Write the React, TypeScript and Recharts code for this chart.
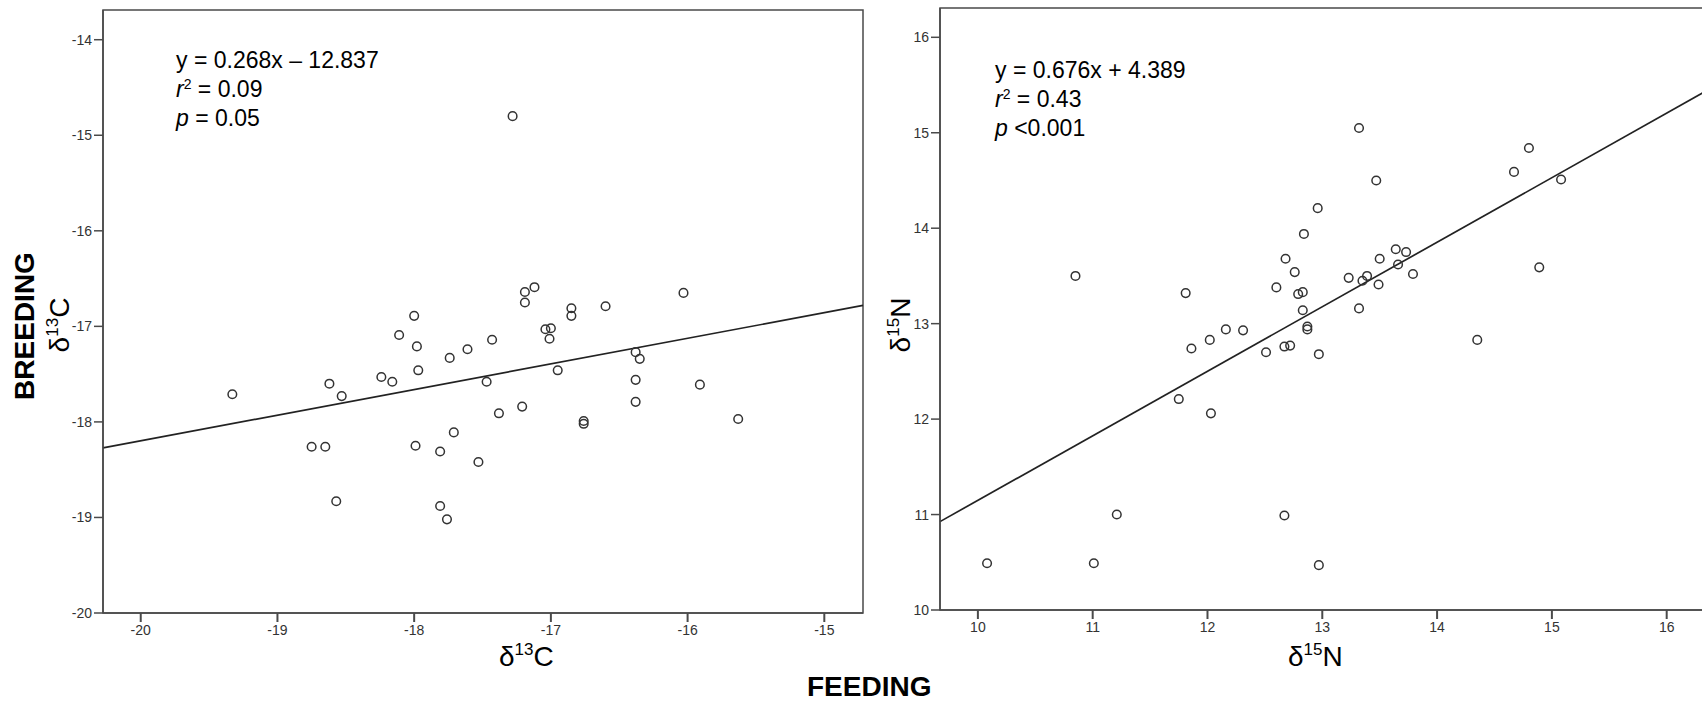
import React from 'react';
import {
  ScatterChart,
  Scatter,
  XAxis,
  YAxis,
  ReferenceArea,
  ReferenceLine,
} from 'recharts';

// left panel: δ13C feeding (x) vs breeding (y)
const carbonFeeding = [
  -19.33, -18.75, -18.65, -18.62, -18.53, -18.57, -18.24, -18.16, -18.11, -18.0, -17.98,
  -17.97, -17.99, -17.81, -17.81, -17.76, -17.74, -17.61, -17.71, -17.53, -17.43, -17.47,
  -17.38, -17.28, -17.21, -17.19, -17.12, -17.19, -17.04, -17.0, -17.01, -16.95, -16.85,
  -16.85, -16.76, -16.76, -16.6, -16.38, -16.35, -16.38, -16.38, -16.03, -15.91, -15.63,
];
const carbonBreeding = [
  -17.71, -18.26, -18.26, -17.6, -17.73, -18.83, -17.53, -17.58, -17.09, -16.89, -17.21,
  -17.46, -18.25, -18.31, -18.88, -19.02, -17.33, -17.24, -18.11, -18.42, -17.14, -17.58,
  -17.91, -14.8, -17.84, -16.64, -16.59, -16.75, -17.03, -17.02, -17.13, -17.46, -16.81,
  -16.89, -17.99, -18.02, -16.79, -17.27, -17.34, -17.56, -17.79, -16.65, -17.61, -17.97,
];

// right panel: δ15N feeding (x) vs breeding (y)
const nitrogenFeeding = [
  10.08, 11.01, 11.21, 10.85, 11.75, 11.81, 11.86, 12.02, 12.03, 12.16, 12.31, 12.51,
  12.6, 12.67, 12.72, 12.67, 12.68, 12.76, 12.79, 12.83, 12.83, 12.84, 12.87, 12.87,
  12.96, 12.97, 12.97, 13.23, 13.32, 13.32, 13.35, 13.39, 13.47, 13.49, 13.5, 13.64,
  13.73, 13.66, 13.79, 14.35, 14.67, 14.8, 14.89, 15.08,
];
const nitrogenBreeding = [
  10.49, 10.49, 11.0, 13.5, 12.21, 13.32, 12.74, 12.83, 12.06, 12.94, 12.93, 12.7,
  13.38, 12.76, 12.77, 10.99, 13.68, 13.54, 13.31, 13.33, 13.14, 13.94, 12.97, 12.94,
  14.21, 12.68, 10.47, 13.48, 13.16, 15.05, 13.45, 13.5, 14.5, 13.41, 13.68, 13.78,
  13.75, 13.62, 13.52, 12.83, 14.59, 14.84, 13.59, 14.51,
];

const carbonXTicks = [-20, -19, -18, -17, -16, -15];
const carbonYTicks = [-20, -19, -18, -17, -16, -15, -14];
const nitrogenXTicks = [10, 11, 12, 13, 14, 15, 16];
const nitrogenYTicks = [10, 11, 12, 13, 14, 15, 16];

// slope, intercept
const carbonFit = [0.268, -12.837];
const nitrogenFit = [0.676, 4.389];

const carbonData = carbonFeeding.map((x, i) => ({ x, y: carbonBreeding[i] }));
const nitrogenData = nitrogenFeeding.map((x, i) => ({ x, y: nitrogenBreeding[i] }));

const FONT = '"Liberation Sans", Arial, sans-serif';
const AXIS = '#4a4a4a';

const tickStyle = { fill: '#333', fontSize: 14, fontFamily: FONT };

const OpenCircle = (props: any) => (
  <circle cx={props.cx} cy={props.cy} r={4.3} fill="none" stroke="#333" strokeWidth={1.5} />
);

interface PanelProps {
  data: { x: number; y: number }[];
  xDomain: [number, number];
  yDomain: [number, number];
  xTicks: number[];
  yTicks: number[];
  fit: number[];
  width: number;
  margin: { top: number; right: number; bottom: number; left: number };
  yAxisWidth: number;
}

function Panel({ data, xDomain, yDomain, xTicks, yTicks, fit, width, margin, yAxisWidth }: PanelProps) {
  const [x0, x1] = xDomain;
  return (
    <ScatterChart width={width} height={705} margin={margin}>
      <XAxis
        type="number"
        dataKey="x"
        domain={xDomain}
        ticks={xTicks}
        allowDataOverflow
        height={40}
        tickSize={9}
        tickMargin={3}
        axisLine={{ stroke: AXIS, strokeWidth: 1.5 }}
        tickLine={{ stroke: AXIS, strokeWidth: 2 }}
        tick={tickStyle}
      />
      <YAxis
        type="number"
        dataKey="y"
        domain={yDomain}
        ticks={yTicks}
        allowDataOverflow
        width={yAxisWidth}
        tickSize={9}
        tickMargin={2}
        axisLine={{ stroke: AXIS, strokeWidth: 1.5 }}
        tickLine={{ stroke: AXIS, strokeWidth: 1.5 }}
        tick={tickStyle}
      />
      <ReferenceArea
        x1={x0}
        x2={x1}
        y1={yDomain[0]}
        y2={yDomain[1]}
        fill="none"
        fillOpacity={0}
        stroke={AXIS}
        strokeWidth={1.5}
        ifOverflow="visible"
      />
      <ReferenceLine
        segment={[
          { x: x0, y: fit[0] * x0 + fit[1] },
          { x: x1, y: fit[0] * x1 + fit[1] },
        ]}
        stroke="#222"
        strokeWidth={1.7}
        ifOverflow="visible"
      />
      <Scatter data={data} shape={OpenCircle} isAnimationActive={false} />
    </ScatterChart>
  );
}

const abs = (left: number, top: number, extra: React.CSSProperties = {}): React.CSSProperties => ({
  position: 'absolute',
  left,
  top,
  fontFamily: FONT,
  color: '#000',
  whiteSpace: 'nowrap',
  ...extra,
});

const supSmall: React.CSSProperties = { fontSize: 14, lineHeight: 0, verticalAlign: '0.6em' };

function Stats({ left, top, lines }: { left: number; top: number; lines: React.ReactNode[] }) {
  return (
    <div style={abs(left, top, { fontSize: 23, lineHeight: '29px' })}>
      {lines.map((l, i) => (
        <div key={i} style={{ height: 29 }}>{l}</div>
      ))}
    </div>
  );
}

function Delta({ mass, el }: { mass: string; el: string }) {
  return (
    <span>
      δ<span style={{ fontSize: 17, lineHeight: 0, verticalAlign: '0.65em' }}>{mass}</span>
      {el}
    </span>
  );
}

export default function App() {
  return (
    <div
      style={{
        position: 'fixed',
        left: 0,
        top: 0,
        width: 1702,
        height: 705,
        overflow: 'hidden',
        background: '#fff',
      }}
    >
      <div style={{ position: 'absolute', left: 0, top: 0 }}>
        <Panel
          data={carbonData}
          xDomain={[-20.276, -14.717]}
          yDomain={[-20, -13.689]}
          xTicks={carbonXTicks}
          yTicks={carbonYTicks}
          fit={carbonFit}
          width={900}
          margin={{ top: 10, right: 37, bottom: 52, left: 43 }}
          yAxisWidth={60}
        />
      </div>
      <div style={{ position: 'absolute', left: 880, top: 0 }}>
        <Panel
          data={nitrogenData}
          xDomain={[9.67, 16.325]}
          yDomain={[10, 16.307]}
          xTicks={nitrogenXTicks}
          yTicks={nitrogenYTicks}
          fit={nitrogenFit}
          width={824}
          margin={{ top: 8, right: 0, bottom: 55, left: 10 }}
          yAxisWidth={50}
        />
      </div>

      <Stats
        left={176}
        top={46}
        lines={[
          'y = 0.268x – 12.837',
          <span><i>r</i><span style={supSmall}>2</span> = 0.09</span>,
          <span><i>p</i> = 0.05</span>,
        ]}
      />
      <Stats
        left={995}
        top={56}
        lines={[
          'y = 0.676x + 4.389',
          <span><i>r</i><span style={supSmall}>2</span> = 0.43</span>,
          <span><i>p</i> &lt;0.001</span>,
        ]}
      />

      <div style={abs(499, 640, { fontSize: 28, lineHeight: '34px' })}>
        <Delta mass="13" el="C" />
      </div>
      <div style={abs(1288, 640, { fontSize: 28, lineHeight: '34px' })}>
        <Delta mass="15" el="N" />
      </div>
      <div style={abs(807, 670, { fontSize: 28, fontWeight: 700, lineHeight: '34px' })}>FEEDING</div>

      <div
        style={abs(25, 326, {
          fontSize: 28,
          fontWeight: 700,
          lineHeight: '34px',
          transform: 'translate(-50%, -50%) rotate(-90deg)',
        })}
      >
        BREEDING
      </div>
      <div
        style={abs(60, 325, {
          fontSize: 28,
          lineHeight: '34px',
          transform: 'translate(-50%, -50%) rotate(-90deg)',
        })}
      >
        <Delta mass="13" el="C" />
      </div>
      <div
        style={abs(901, 325, {
          fontSize: 28,
          lineHeight: '34px',
          transform: 'translate(-50%, -50%) rotate(-90deg)',
        })}
      >
        <Delta mass="15" el="N" />
      </div>
    </div>
  );
}
